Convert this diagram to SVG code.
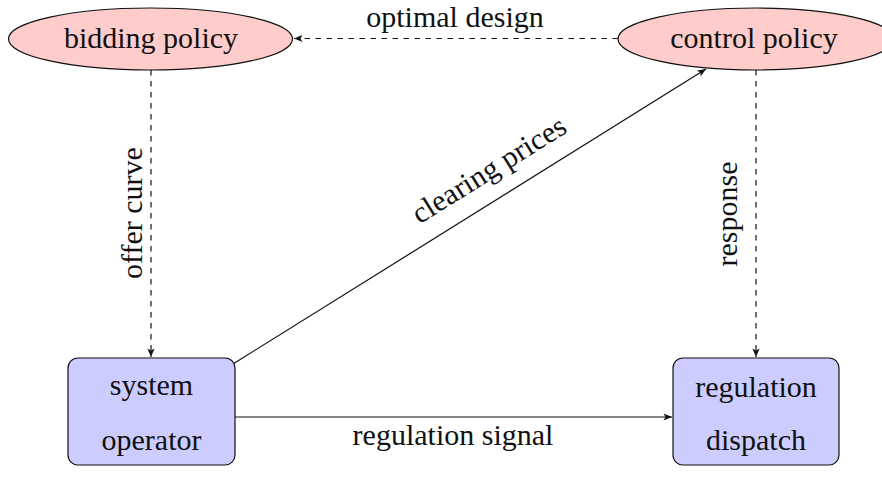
<svg xmlns="http://www.w3.org/2000/svg" width="882" height="479" viewBox="0 0 882 479">
  <style>
    text { font-family: "Liberation Serif", "Times New Roman", serif; font-size: 30px; fill: #111; }
    .policy ellipse { fill: #ffcccc; stroke: #111; stroke-width: 1.2; }
    .block rect { fill: #ccccff; stroke: #111; stroke-width: 1.2; }
    .edge { fill: none; stroke: #111; stroke-width: 1.2; }
    .dashed { stroke-dasharray: 5.5 5.5; }
    .mid { text-anchor: middle; }
  </style>
  <defs>
    <marker id="tip" viewBox="-9 -4 10 8" refX="0" refY="0" markerWidth="10" markerHeight="8" markerUnits="userSpaceOnUse" orient="auto">
      <path d="M0,0 L-8.5,-3.6 L-6.5,0 L-8.5,3.6 Z" fill="#111"/>
    </marker>
  </defs>

  <!-- connectors and their labels -->
  <g id="connectors">
    <line class="edge dashed" x1="618" y1="38.5" x2="294" y2="38.5" marker-end="url(#tip)"/>
    <line class="edge dashed" x1="151" y1="70" x2="151" y2="357" marker-end="url(#tip)"/>
    <line class="edge dashed" x1="756" y1="70" x2="756" y2="357" marker-end="url(#tip)"/>
    <line class="edge" x1="233" y1="364" x2="706" y2="69" marker-end="url(#tip)"/>
    <line class="edge" x1="235" y1="417" x2="672" y2="417" marker-end="url(#tip)"/>

    <text class="mid" x="455" y="26.5" font-size="29">optimal design</text>
    <text class="mid" transform="translate(142,213) rotate(-90)">offer curve</text>
    <text class="mid" transform="translate(737,214) rotate(-90)">response</text>
    <text class="mid" transform="translate(494,178) rotate(-31.9)">clearing prices</text>
    <text class="mid" x="453" y="445">regulation signal</text>
  </g>

  <!-- nodes -->
  <g id="bidding-policy" class="policy">
    <ellipse cx="150.5" cy="39" rx="142" ry="31"/>
    <text class="mid" x="151" y="48">bidding policy</text>
  </g>

  <g id="control-policy" class="policy">
    <ellipse cx="756" cy="39" rx="138" ry="31"/>
    <text class="mid" x="754" y="48">control policy</text>
  </g>

  <g id="system-operator" class="block">
    <rect x="68" y="358" width="167" height="107" rx="10" ry="10"/>
    <text class="mid" x="151.5" y="395">system</text>
    <text class="mid" x="151.5" y="450">operator</text>
  </g>

  <g id="regulation-dispatch" class="block">
    <rect x="673" y="358" width="166" height="107" rx="10" ry="10"/>
    <text class="mid" x="756" y="397">regulation</text>
    <text class="mid" x="756" y="450">dispatch</text>
  </g>
</svg>
